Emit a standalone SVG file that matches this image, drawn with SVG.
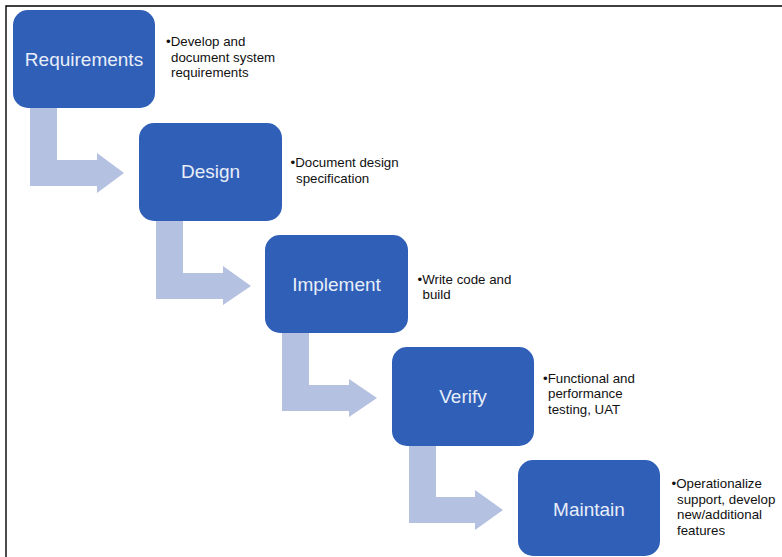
<svg xmlns="http://www.w3.org/2000/svg" width="782" height="557" viewBox="0 0 782 557">
  <style>
    .box { fill: #305FB8; }
    .arrow { fill: #B4C1E1; }
    .label { font-family: "Liberation Sans", Arial, sans-serif; font-size: 19px; fill: #E8EEF8; text-anchor: middle; }
    .note { font-family: "Liberation Sans", Arial, sans-serif; font-size: 13.3px; fill: #111111; }
    .frame { stroke: #000000; stroke-width: 1.4; fill: none; }
  </style>
  <rect width="782" height="557" fill="#FFFFFF"/>
  <path class="frame" d="M6,557 L6,6 L782,6"/>

  <g id="connectors">
    <path class="arrow" d="M30,108 L57,108 L57,160 L97,160 L97,153 L124,173 L97,193 L97,186 L30,186 Z"/>
    <path class="arrow" d="M156,221 L183,221 L183,273 L223,273 L223,266 L251,286 L223,305 L223,299 L156,299 Z"/>
    <path class="arrow" d="M282,333 L309,333 L309,385 L349,385 L349,379 L377,398 L349,417 L349,411 L282,411 Z"/>
    <path class="arrow" d="M409,446 L436,446 L436,497 L475,497 L475,490 L503,510 L475,530 L475,523 L409,523 Z"/>
  </g>

  <g id="requirements">
    <rect class="box" x="13" y="10" width="142" height="98" rx="15"/>
    <text class="label" x="84" y="65.5">Requirements</text>
    <text class="note" x="166" y="46">•Develop and</text>
    <text class="note" x="171" y="61.5">document system</text>
    <text class="note" x="171" y="77">requirements</text>
  </g>

  <g id="design">
    <rect class="box" x="139" y="123" width="143" height="98" rx="15"/>
    <text class="label" x="210.5" y="178">Design</text>
    <text class="note" x="290.5" y="167">•Document design</text>
    <text class="note" x="296" y="182.5">specification</text>
  </g>

  <g id="implement">
    <rect class="box" x="265" y="235" width="143" height="98" rx="15"/>
    <text class="label" x="336.5" y="290.5">Implement</text>
    <text class="note" x="417.5" y="283.5">•Write code and</text>
    <text class="note" x="422.5" y="298.5">build</text>
  </g>

  <g id="verify">
    <rect class="box" x="392" y="347" width="142" height="99" rx="15"/>
    <text class="label" x="463" y="403">Verify</text>
    <text class="note" x="543" y="382.5">•Functional and</text>
    <text class="note" x="548" y="398">performance</text>
    <text class="note" x="548" y="413.5">testing, UAT</text>
  </g>

  <g id="maintain">
    <rect class="box" x="518" y="460" width="142" height="96" rx="15"/>
    <text class="label" x="589" y="515.5">Maintain</text>
    <text class="note" x="671.5" y="488">•Operationalize</text>
    <text class="note" x="677" y="503.5">support, develop</text>
    <text class="note" x="677" y="519">new/additional</text>
    <text class="note" x="677" y="535">features</text>
  </g>
</svg>
